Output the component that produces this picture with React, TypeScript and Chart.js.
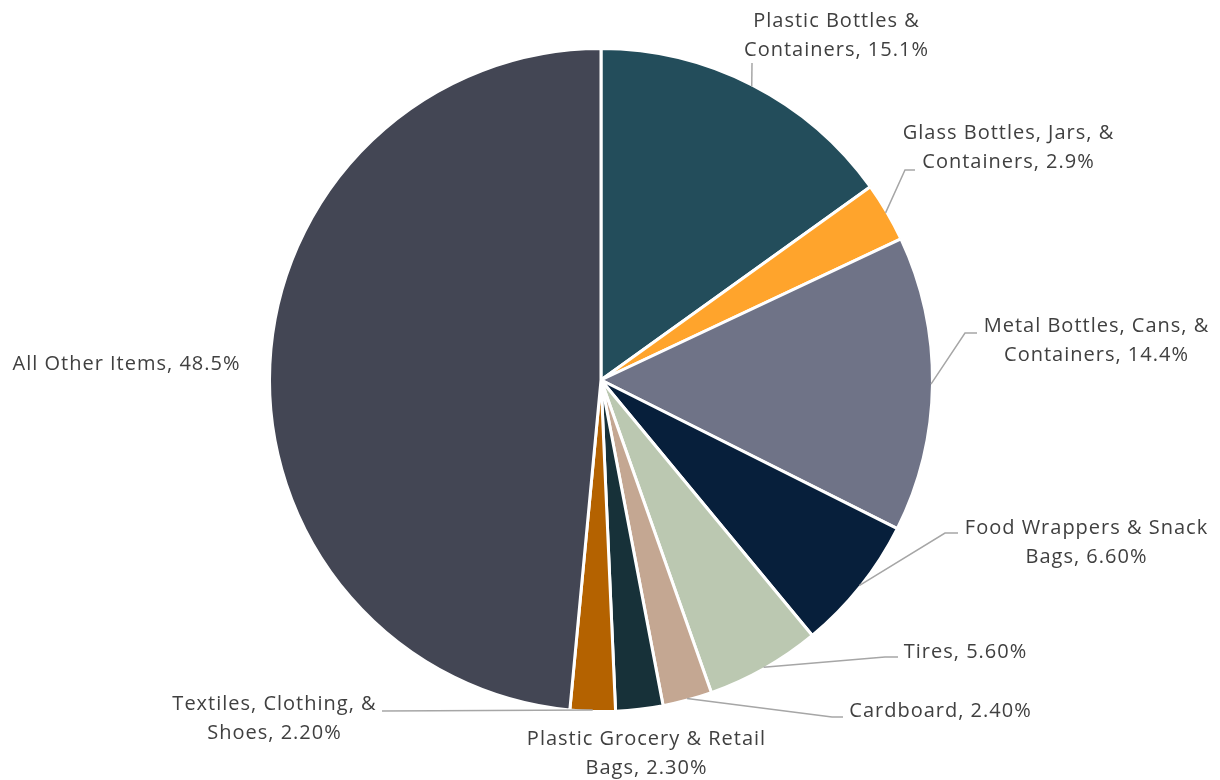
import React, { useEffect, useRef } from "react";
import { Chart, registerables } from "chart.js";

Chart.register(...registerables);

// ---- data ----
const categories = [
  "Plastic Bottles & Containers",
  "Glass Bottles, Jars, & Containers",
  "Metal Bottles, Cans, & Containers",
  "Food Wrappers & Snack Bags",
  "Tires",
  "Cardboard",
  "Plastic Grocery & Retail Bags",
  "Textiles, Clothing, & Shoes",
  "All Other Items",
];
const shares = [15.1, 2.9, 14.4, 6.6, 5.6, 2.4, 2.3, 2.2, 48.5];
const shareDecimals = [1, 1, 1, 2, 2, 2, 2, 2, 1];

// ---- styles ----
const sliceColors = [
  "#234D5B",
  "#FFA42C",
  "#6F7387",
  "#071F3B",
  "#BBC8B1",
  "#C4A792",
  "#173139",
  "#B46200",
  "#434654",
];

// label layout: text centre (relative to pie centre), words on first line, leader waypoints
const labelLayout = [
  { tx: 235, ty: -360, firstWords: 3, leader: [[151, -317]] },
  { tx: 407, ty: -248, firstWords: 4, leader: [[304, -210], [314, -210]] },
  { tx: 495, ty: -55, firstWords: 4, leader: [[364, -47], [376, -47]] },
  { tx: 485, ty: 147, firstWords: 4, leader: [[344, 153], [357, 153]] },
  { tx: 364, ty: 271, firstWords: 99, leader: [[284, 277], [297, 277]] },
  { tx: 339, ty: 330, firstWords: 99, leader: [[231, 337], [242, 337]] },
  { tx: 45, ty: 358, firstWords: 4, leader: [] },
  { tx: -327, ty: 323, firstWords: 3, leader: [[-219, 331]] },
  { tx: -475, ty: -17, firstWords: 99, leader: [] },
];

const FONT = '20px "Open Sans", "Noto Sans", sans-serif';
const LINE_H = 29.5;

const labelPlugin = {
  id: "pieLabels",
  afterDatasetsDraw(chart: any) {
    const ctx = chart.ctx as CanvasRenderingContext2D;
    const meta = chart.getDatasetMeta(0);
    ctx.save();
    meta.data.forEach((arc: any, i: number) => {
      const p = arc.getProps(["x", "y", "startAngle", "endAngle", "outerRadius"], true);
      const mid = (p.startAngle + p.endAngle) / 2;
      const lay = labelLayout[i];
      const sx = p.x + Math.cos(mid) * (p.outerRadius - 1.5);
      const sy = p.y + Math.sin(mid) * (p.outerRadius - 1.5);
      if (lay.leader.length) {
        ctx.beginPath();
        ctx.strokeStyle = "#A6A6A6";
        ctx.lineWidth = 1.5;
        ctx.moveTo(sx, sy);
        lay.leader.forEach(([dx, dy]) => ctx.lineTo(p.x + dx, p.y + dy));
        ctx.stroke();
      }
      const text = `${categories[i]}, ${shares[i].toFixed(shareDecimals[i])}%`;
      const words = text.split(" ");
      const lines =
        lay.firstWords >= words.length
          ? [text]
          : [words.slice(0, lay.firstWords).join(" "), words.slice(lay.firstWords).join(" ")];
      ctx.font = FONT;
      (ctx as any).letterSpacing = "1px";
      ctx.fillStyle = "#404040";
      ctx.textAlign = "center";
      ctx.textBaseline = "middle";
      lines.forEach((ln, k) => {
        ctx.fillText(ln, p.x + lay.tx + 0.5, p.y + lay.ty + 1 + k * LINE_H);
      });
    });
    ctx.restore();
  },
};

export default function App() {
  const ref = useRef<HTMLCanvasElement | null>(null);
  useEffect(() => {
    if (!ref.current) return;
    const chart = new Chart(ref.current, {
      type: "pie",
      data: {
        labels: categories,
        datasets: [
          {
            data: shares,
            backgroundColor: sliceColors,
            borderColor: "#FFFFFF",
            borderWidth: 3,
          },
        ],
      },
      options: {
        responsive: false,
        animation: false,
        radius: 331.5,
        layout: { padding: { left: 0, right: 18, top: 0, bottom: 20 } },
        plugins: {
          legend: { display: false },
          tooltip: { enabled: false },
        },
      } as any,
      plugins: [labelPlugin],
    });
    return () => chart.destroy();
  }, []);
  return (
    <div style={{ position: "fixed", left: 0, top: 0, width: 1220, height: 780, background: "#fff" }}>
      <canvas ref={ref} width={1220} height={780} />
    </div>
  );
}
